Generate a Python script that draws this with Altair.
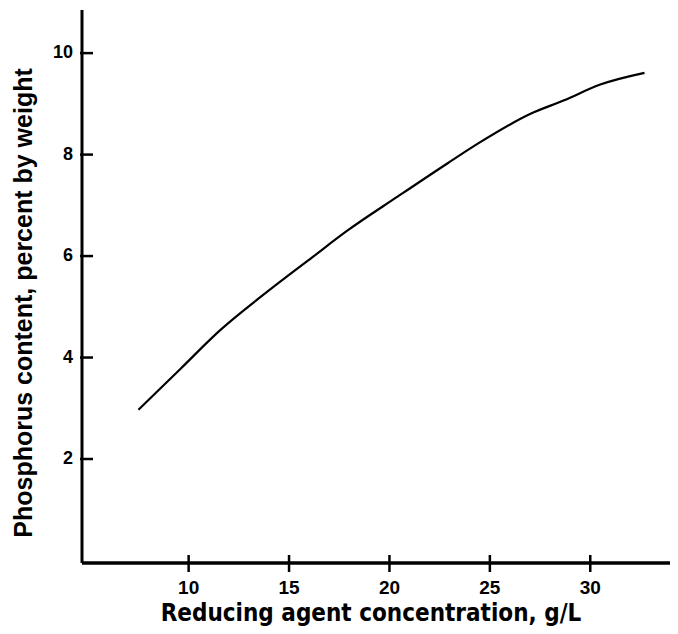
import altair as alt
import pandas as pd

# Curve
conc = [7.5, 9.6, 11.6, 13.6, 16.2, 17.9, 20.4, 22.9, 24.5, 27.0, 28.7, 30.5, 32.7]
phos = [2.97, 3.78, 4.55, 5.20, 5.99, 6.50, 7.17, 7.83, 8.24, 8.80, 9.07, 9.38, 9.61]

x_ticks = [10, 15, 20, 25, 30]
x_tick_labels = ["10", "15", "20", "25", "30"]
y_ticks = [2, 4, 6, 8, 10]
y_tick_labels = ["2", "4", "6", "8", "10"]
x_dom = [4.69, 33.97]
y_dom = [-0.05, 10.85]

x_title = "Reducing agent concentration, g/L"
y_title = "Phosphorus content, percent by weight"

df = pd.DataFrame({"conc": conc, "phos": phos})
one = pd.DataFrame({"k": [0]})
xt = pd.DataFrame({"t": x_ticks, "lab": x_tick_labels})
yt = pd.DataFrame({"t": y_ticks, "lab": y_tick_labels})
xtitle_df = pd.DataFrame({"lab": [x_title]})
ytitle_df = pd.DataFrame({"lab": [y_title]})

xscale = alt.Scale(domain=x_dom, nice=False, zero=False)
yscale = alt.Scale(domain=y_dom, nice=False, zero=False)


def xd(v):
    return alt.X(datum=v, type="quantitative", scale=xscale, axis=None)


def yd(v):
    return alt.Y(datum=v, type="quantitative", scale=yscale, axis=None)


line = alt.Chart(df).mark_line(color="black", strokeWidth=2.2, interpolate="monotone").encode(
    x=alt.X("conc:Q", scale=xscale, axis=None),
    y=alt.Y("phos:Q", scale=yscale, axis=None),
)

x_axis_line = alt.Chart(one).mark_rule(color="black", strokeWidth=3.5).encode(
    x=xd(x_dom[0]), x2=alt.datum(x_dom[1]), y=yd(y_dom[0]),
)
y_axis_line = alt.Chart(one).mark_rule(color="black", strokeWidth=3).encode(
    x=xd(x_dom[0]), y=yd(y_dom[0]), y2=alt.datum(y_dom[1]),
)

x_tick_marks = alt.Chart(xt).mark_rule(color="black", strokeWidth=2.5, yOffset=-8, y2Offset=9).encode(
    x=alt.X("t:Q", scale=xscale, axis=None), y=yd(y_dom[0]), y2=alt.datum(y_dom[0]),
)
y_tick_marks = alt.Chart(yt).mark_rule(color="black", strokeWidth=2.5, xOffset=-2, x2Offset=11).encode(
    y=alt.Y("t:Q", scale=yscale, axis=None), x=xd(x_dom[0]), x2=alt.datum(x_dom[0]),
)

x_labels = alt.Chart(xt).mark_text(
    color="black", font="Liberation Sans", fontWeight="bold", fontSize=19,
    align="center", baseline="alphabetic", dy=31,
).encode(x=alt.X("t:Q", scale=xscale, axis=None), y=yd(y_dom[0]), text="lab:N")

y_labels = alt.Chart(yt).mark_text(
    color="black", font="Liberation Sans", fontWeight="bold", fontSize=18,
    align="right", baseline="middle", dx=-9,
).encode(y=alt.Y("t:Q", scale=yscale, axis=None), x=xd(x_dom[0]), text="lab:N")

x_title_mark = alt.Chart(xtitle_df).mark_text(
    color="black", font="DejaVu Sans Condensed, DejaVu Sans", fontWeight="bold", fontSize=24,
    align="center", baseline="alphabetic",
).encode(x=alt.value(289), y=alt.value(611), text="lab:N")

y_title_mark = alt.Chart(ytitle_df).mark_text(
    color="black", font="Liberation Sans", fontWeight="bold", fontSize=25,
    align="center", baseline="alphabetic", angle=270,
).encode(x=alt.value(-50), y=alt.value(293), text="lab:N")

chart = alt.layer(
    line, x_axis_line, y_axis_line, x_labels, y_labels, x_title_mark, y_title_mark,
    x_tick_marks, y_tick_marks,
).properties(
    width=588, height=553,
    autosize=alt.AutoSizeParams(type="none"),
    padding={"left": 74, "top": 2, "right": 0, "bottom": 67},
    background="white",
).configure_view(strokeWidth=0)

chart.save("out.html", embed_options={"renderer": "svg", "actions": False})
